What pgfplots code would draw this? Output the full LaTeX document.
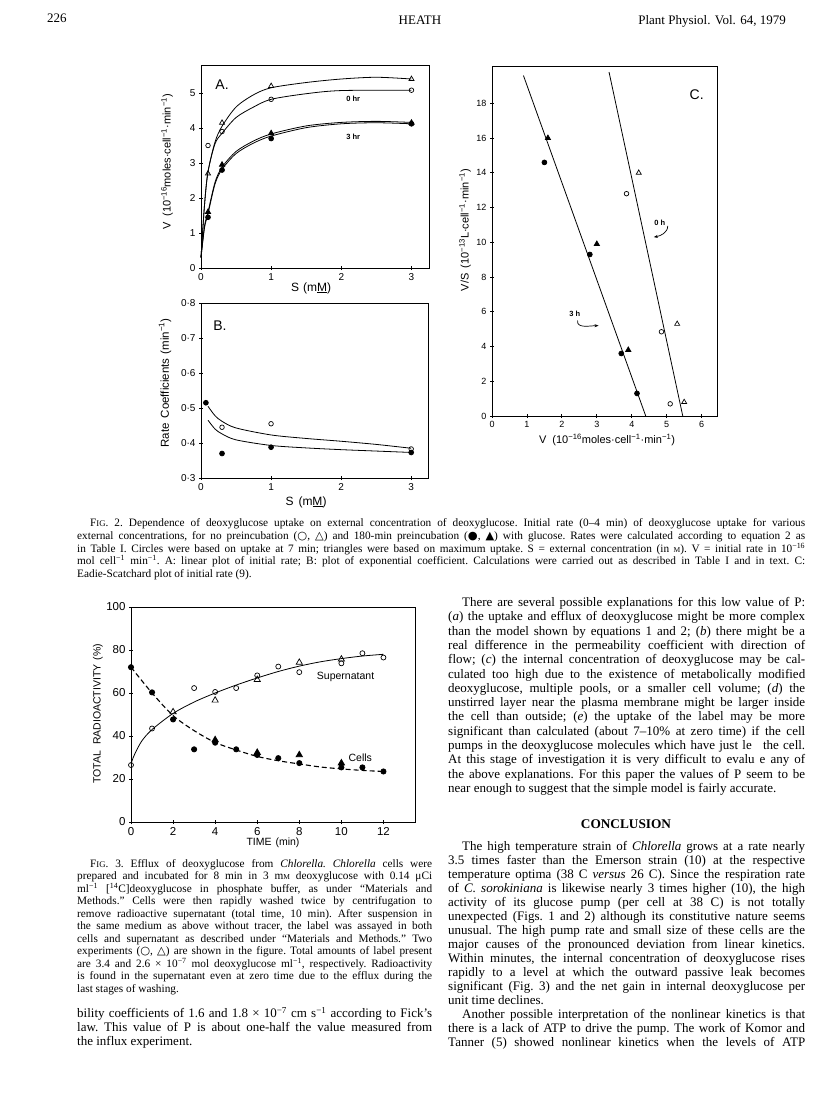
\documentclass[border=0pt]{standalone}
\usepackage{fontspec}
\setmainfont{Liberation Serif}
\newfontfamily\plotfont{Liberation Sans}
\newfontfamily\sym{DejaVu Sans}
\usepackage{pgfplots}
\pgfplotsset{compat=1.18}
\usetikzlibrary{arrows.meta}
\newcommand{\J}[4]{\node[anchor=base west,inner sep=0pt] at (#1pt,-#2pt) {\frenchspacing\makebox[#3pt][s]{#4}};}
\newcommand{\Lt}[3]{\node[anchor=base west,inner sep=0pt] at (#1pt,-#2pt) {\frenchspacing #3};}
\newcommand{\sps}[1]{\textsuperscript{#1}}
\newcommand{\smM}{{\fontsize{7.5}{8}\selectfont M}}
\newcommand{\FIG}{F{\fontsize{8.7}{9}\selectfont IG}.}
\pgfplotsset{
 pg/.style={scale only axis, anchor=south west, axis line style={line width=0.9pt},
  tick style={line width=0.8pt,black}, major tick length=4pt, tick align=center,
  xtick pos=bottom, ytick pos=left, /pgf/number format/assume math mode=true,
  tick label style={font=\plotfont\fontsize{10}{12}\selectfont},
  clip=false, every axis plot/.append style={line width=0.8pt, black}},
 ln/.style={black, no markers, line width=0.8pt},
 oc/.style={only marks, mark=o, mark size=2.3pt, mark options={line width=0.7pt}},
 fc/.style={only marks, mark=*, mark size=2.4pt},
 ot/.style={only marks, mark=triangle, mark size=2.9pt, mark options={line width=0.7pt}},
 ft/.style={only marks, mark=triangle*, mark size=3pt},
}
\begin{document}
\begin{tikzpicture}
\useasboundingbox (0pt,0pt) rectangle (816pt,-1100pt);
\fill[white] (0pt,0pt) rectangle (816pt,-1100pt);

% ---------- header ----------
\begin{scope}[font=\fontsize{13}{14}\selectfont]
\Lt{47}{23}{226}
\node[anchor=base,inner sep=0pt] at (420pt,-24pt) {HEATH};
\node[anchor=base east,inner sep=0pt] at (786pt,-24pt) {Plant Physiol. Vol. 64, 1979};
\end{scope}

% ---------- Fig 2A ----------
\begin{axis}[pg, at={(201pt,-268pt)}, width=228pt, height=203pt,
  xmin=0, xmax=3.25, ymin=0, ymax=5.8, xtick={0,1,2,3}, ytick={0,1,2,3,4,5}]
\addplot[ln, smooth] coordinates {(0,0.3) (0.05,1.8) (0.1,2.75) (0.2,3.6) (0.3,4.05) (0.5,4.6) (0.75,4.95) (1,5.15) (1.5,5.3) (2,5.4) (2.5,5.45) (3,5.4)};
\addplot[ln, smooth] coordinates {(0,0.3) (0.05,1.8) (0.1,2.75) (0.2,3.55) (0.3,3.85) (0.5,4.3) (0.75,4.6) (1,4.82) (1.5,4.98) (2,5.07) (3,5.08)};
\addplot[ln, smooth] coordinates {(0,0.3) (0.05,1.2) (0.1,1.6) (0.2,2.45) (0.3,2.88) (0.5,3.33) (0.75,3.63) (1,3.83) (1.5,4.06) (2,4.16) (2.5,4.19) (3,4.16)};
\addplot[ln, smooth] coordinates {(0,0.3) (0.05,1.15) (0.1,1.55) (0.2,2.4) (0.3,2.82) (0.5,3.27) (0.75,3.57) (1,3.77) (1.5,4.01) (2,4.12) (2.5,4.15) (3,4.12)};
\addplot[ot] coordinates {(0.1,2.7) (0.3,4.15) (1,5.2) (3,5.4)};
\addplot[oc] coordinates {(0.1,3.5) (0.3,3.9) (1,4.82) (3,5.08)};
\addplot[ft] coordinates {(0.1,1.6) (0.3,2.95) (1,3.85) (3,4.15)};
\addplot[fc] coordinates {(0.1,1.45) (0.3,2.8) (1,3.7) (3,4.12)};
\node[font=\plotfont\fontsize{14}{14}\selectfont] at (axis cs:0.3,5.24) {A.};
\node[font=\plotfont\bfseries\fontsize{7.5}{8}\selectfont] at (axis cs:2.17,4.84) {0 hr};
\node[font=\plotfont\bfseries\fontsize{7.5}{8}\selectfont] at (axis cs:2.17,3.75) {3 hr};
\end{axis}

% ---------- Fig 2B ----------
\begin{axis}[pg, at={(201pt,-478pt)}, width=227pt, height=175pt,
  xmin=0, xmax=3.24, ymin=0.3, ymax=0.8, xtick={0,1,2,3},
  ytick={0.3,0.4,0.5,0.6,0.7,0.8}, yticklabels={0·3,0·4,0·5,0·6,0·7,0·8}]
\addplot[ln, smooth] coordinates {(0.1,0.505) (0.2,0.478) (0.3,0.462) (0.5,0.443) (1,0.423) (1.5,0.413) (2,0.405) (2.5,0.396) (3,0.385)};
\addplot[ln, smooth] coordinates {(0.1,0.465) (0.2,0.44) (0.3,0.426) (0.5,0.409) (1,0.393) (1.5,0.386) (2,0.381) (2.5,0.377) (3,0.373)};
\addplot[fc] coordinates {(0.07,0.515) (0.3,0.37) (1,0.388) (3,0.373)};
\addplot[oc] coordinates {(0.3,0.445) (1,0.455) (3,0.383)};
\node[font=\plotfont\fontsize{14}{14}\selectfont] at (axis cs:0.27,0.735) {B.};
\end{axis}

% ---------- Fig 2C ----------
\begin{axis}[pg, at={(492pt,-416pt)}, width=225pt, height=350pt,
  xmin=0, xmax=6.44, ymin=0, ymax=20.15, xtick={0,1,2,3,4,5,6},
  ytick={0,2,4,6,8,10,12,14,16,18},
  tick label style={font=\plotfont\fontsize{9}{10}\selectfont}]
\addplot[ln] coordinates {(0.9,19.6) (4.4,0)};
\addplot[ln] coordinates {(3.35,19.8) (5.46,0)};
\addplot[fc] coordinates {(1.5,14.6) (2.8,9.3) (3.7,3.6) (4.15,1.3)};
\addplot[ft] coordinates {(1.6,16) (3,9.9) (3.9,3.8)};
\addplot[oc] coordinates {(3.85,12.8) (4.85,4.85) (5.1,0.7)};
\addplot[ot] coordinates {(4.2,14) (5.3,5.3) (5.5,0.8)};
\node[font=\plotfont\fontsize{14}{14}\selectfont] at (axis cs:5.86,18.5) {C.};
\node[font=\plotfont\bfseries\fontsize{7.5}{8}\selectfont] at (axis cs:4.8,11.1) {0 h};
\node[font=\plotfont\bfseries\fontsize{7.5}{8}\selectfont] at (axis cs:2.37,5.87) {3 h};
\draw[-{Stealth[length=4pt,width=3pt]}, line width=0.7pt] (axis cs:5.03,10.95) to[out=-90,in=10] (axis cs:4.63,10.3);
\draw[-{Stealth[length=4pt,width=3pt]}, line width=0.7pt] (axis cs:2.45,5.5) to[out=-100,in=180] (axis cs:3.05,5.2);
\end{axis}

% ---------- Fig 3 ----------
\begin{axis}[pg, at={(131pt,-822pt)}, width=284pt, height=215pt,
  xmin=0, xmax=13.5, ymin=0, ymax=100, xtick={0,2,4,6,8,10,12},
  ytick={0,20,40,60,80,100},
  tick label style={font=\plotfont\fontsize{11.5}{12}\selectfont}]
\addplot[ln, smooth] coordinates {(0,27) (0.15,31) (0.5,37.5) (1,43) (2,50.5) (3,55.8) (4,60) (5,63.7) (6,67) (7,70) (8,72.5) (9,74.5) (10,76) (11,77.2) (12,78)};
\addplot[ln, smooth, dash pattern=on 5pt off 3pt, line width=1.1pt] coordinates {(0,72) (1,60) (2,49.5) (3,42.5) (4,37) (5,33.5) (6,30.5) (7,28.5) (8,27) (9,25.6) (10,24.7) (11,24) (12,23.5)};
\addplot[oc, mark size=2.5pt] coordinates {(0,26.5) (1,43.5) (3,62.3) (4,60.5) (5,62.3) (6,68.2) (7,72.3) (8,69.7) (10,73.8) (11,78.5) (12,76.5)};
\addplot[ot, mark size=3.6pt] coordinates {(2,51.2) (4,56.6) (6,66.2) (8,74.2) (10,75.7)};
\addplot[fc, mark size=2.6pt] coordinates {(0,72) (1,60.3) (2,47.7) (3,33.8) (4,36.9) (5,33.8) (6,31.2) (7,29.7) (8,27.4) (10,25.4) (11,25.4) (12,23.5)};
\addplot[ft, mark size=3.6pt] coordinates {(4,38.2) (6,32.3) (8,31.2) (10,27.4)};
\node[font=\plotfont\fontsize{10.5}{12}\selectfont] at (axis cs:10.2,67.3) {Supernatant};
\node[font=\plotfont\fontsize{10.5}{12}\selectfont] at (axis cs:10.9,29.8) {Cells};
\end{axis}

% ---------- axis labels ----------
\begin{scope}[every node/.style={inner sep=0pt}]
\node[rotate=90, font=\plotfont\fontsize{11}{12}\selectfont] at (167pt,-162pt) {V\hspace{6pt}(10\sps{−16}moles·cell\sps{−1}·min\sps{−1})};
\node[font=\plotfont\fontsize{12}{13}\selectfont] at (311pt,-288pt) {S\hspace{4pt}(m\underline{M})};
\node[rotate=90, font=\plotfont\fontsize{11.5}{12}\selectfont] at (165pt,-383pt) {Rate\hspace{5pt}Coefficients\hspace{4pt}(min\sps{−1})};
\node[font=\plotfont\fontsize{12}{13}\selectfont] at (306pt,-502pt) {S\hspace{5pt}(m\underline{M})};
\node[rotate=90, font=\plotfont\fontsize{11}{12}\selectfont] at (465pt,-230pt) {V/S\hspace{5pt}(10\sps{−13}L·cell\sps{−1}·min\sps{−1})};
\node[font=\plotfont\fontsize{11}{12}\selectfont] at (607pt,-440pt) {V\hspace{6pt}(10\sps{−16}moles·cell\sps{−1}·min\sps{−1})};
\node[rotate=90, font=\plotfont\fontsize{10.5}{12}\selectfont] at (98pt,-714pt) {TOTAL\hspace{6pt}RADIOACTIVITY\hspace{4pt}(\%)};
\node[font=\plotfont\fontsize{10.5}{12}\selectfont] at (273pt,-843pt) {TIME\hspace{4pt}(min)};
\end{scope}

% ---------- Fig 2 caption ----------
\begin{scope}[font=\fontsize{11.3}{12.5}\selectfont]
\J{90}{526.5}{715}{\FIG{} 2. Dependence of deoxyglucose uptake on external concentration of deoxyglucose. Initial rate (0–4 min) of deoxyglucose uptake for various}
\J{77}{539.3}{728}{external concentrations, for no preincubation ({\sym ○}, {\sym △}) and 180-min preincubation ({\sym ●}, {\sym ▲}) with glucose. Rates were calculated according to equation 2 as}
\J{77}{552.1}{728}{in Table I. Circles were based on uptake at 7 min; triangles were based on maximum uptake. S = external concentration (in \smM). V = initial rate in 10\sps{−16}}
\J{77}{564.9}{728}{mol cell\sps{−1} min\sps{−1}. A: linear plot of initial rate; B: plot of exponential coefficient. Calculations were carried out as described in Table I and in text. C:}
\Lt{77}{577.7}{Eadie-Scatchard plot of initial rate (9).}
\end{scope}

% ---------- Fig 3 caption ----------
\begin{scope}[font=\fontsize{11.3}{12.5}\selectfont]
\J{90}{867}{342}{\FIG{} 3. Efflux of deoxyglucose from \textit{Chlorella. Chlorella} cells were}
\J{77}{879.5}{355}{prepared and incubated for 8 min in 3 m\smM{} deoxyglucose with 0.14 μCi}
\J{77}{892}{355}{ml\sps{−1} [\sps{14}C]deoxyglucose in phosphate buffer, as under “Materials and}
\J{77}{904.5}{355}{Methods.” Cells were then rapidly washed twice by centrifugation to}
\J{77}{917}{355}{remove radioactive supernatant (total time, 10 min). After suspension in}
\J{77}{929.5}{355}{the same medium as above without tracer, the label was assayed in both}
\J{77}{942}{355}{cells and supernatant as described under “Materials and Methods.” Two}
\J{77}{954.5}{355}{experiments ({\sym ○}, {\sym △}) are shown in the figure. Total amounts of label present}
\J{77}{967}{355}{are 3.4 and 2.6 × 10\sps{−7} mol deoxyglucose ml\sps{−1}, respectively. Radioactivity}
\J{77}{979.5}{355}{is found in the supernatant even at zero time due to the efflux during the}
\Lt{77}{992}{last stages of washing.}
\end{scope}

% ---------- body text ----------
\begin{scope}[font=\fontsize{13}{14}\selectfont]
\J{77}{1017.5}{355}{bility coefficients of 1.6 and 1.8 × 10\sps{−7} cm s\sps{−1} according to Fick's}
\J{77}{1031.5}{355}{law. This value of P is about one-half the value measured from}
\Lt{77}{1045.5}{the influx experiment.}

\J{462}{606.5}{343}{There are several possible explanations for this low value of P:}
\J{448}{620.8}{357}{(\textit{a}) the uptake and efflux of deoxyglucose might be more complex}
\J{448}{635.1}{357}{than the model shown by equations 1 and 2; (\textit{b}) there might be a}
\J{448}{649.4}{357}{real difference in the permeability coefficient with direction of}
\J{448}{663.7}{357}{flow; (\textit{c}) the internal concentration of deoxyglucose may be cal-}
\J{448}{678.0}{357}{culated too high due to the existence of metabolically modified}
\J{448}{692.3}{357}{deoxyglucose, multiple pools, or a smaller cell volume; (\textit{d}) the}
\J{448}{706.6}{357}{unstirred layer near the plasma membrane might be larger inside}
\J{448}{720.9}{357}{the cell than outside; (\textit{e}) the uptake of the label may be more}
\J{448}{735.2}{357}{significant than calculated (about 7–10\% at zero time) if the cell}
\J{448}{749.5}{357}{pumps in the deoxyglucose molecules which have just le\hspace{7pt} the cell.}
\J{448}{763.8}{357}{At this stage of investigation it is very difficult to evalu\hspace{3pt}\hspace{2pt}e any of}
\J{448}{778.1}{357}{the above explanations. For this paper the values of P seem to be}
\Lt{448}{792.4}{near enough to suggest that the simple model is fairly accurate.}

\node[anchor=base,inner sep=0pt,font=\fontsize{13.3}{14}\selectfont\bfseries] at (626pt,-828pt) {CONCLUSION};

\J{462}{850}{343}{The high temperature strain of \textit{Chlorella} grows at a rate nearly}
\J{448}{864}{357}{3.5 times faster than the Emerson strain (10) at the respective}
\J{448}{878}{357}{temperature optima (38 C \textit{versus} 26 C). Since the respiration rate}
\J{448}{892}{357}{of \textit{C. sorokiniana} is likewise nearly 3 times higher (10), the high}
\J{448}{906}{357}{activity of its glucose pump (per cell at 38 C) is not totally}
\J{448}{920}{357}{unexpected (Figs. 1 and 2) although its constitutive nature seems}
\J{448}{934}{357}{unusual. The high pump rate and small size of these cells are the}
\J{448}{948}{357}{major causes of the pronounced deviation from linear kinetics.}
\J{448}{962}{357}{Within minutes, the internal concentration of deoxyglucose rises}
\J{448}{976}{357}{rapidly to a level at which the outward passive leak becomes}
\J{448}{990}{357}{significant (Fig. 3) and the net gain in internal deoxyglucose per}
\Lt{448}{1004}{unit time declines.}
\J{462}{1018}{343}{Another possible interpretation of the nonlinear kinetics is that}
\J{448}{1032}{357}{there is a lack of ATP to drive the pump. The work of Komor and}
\J{448}{1046}{357}{Tanner (5) showed nonlinear kinetics when the levels of ATP}
\end{scope}
\end{tikzpicture}
\end{document}
